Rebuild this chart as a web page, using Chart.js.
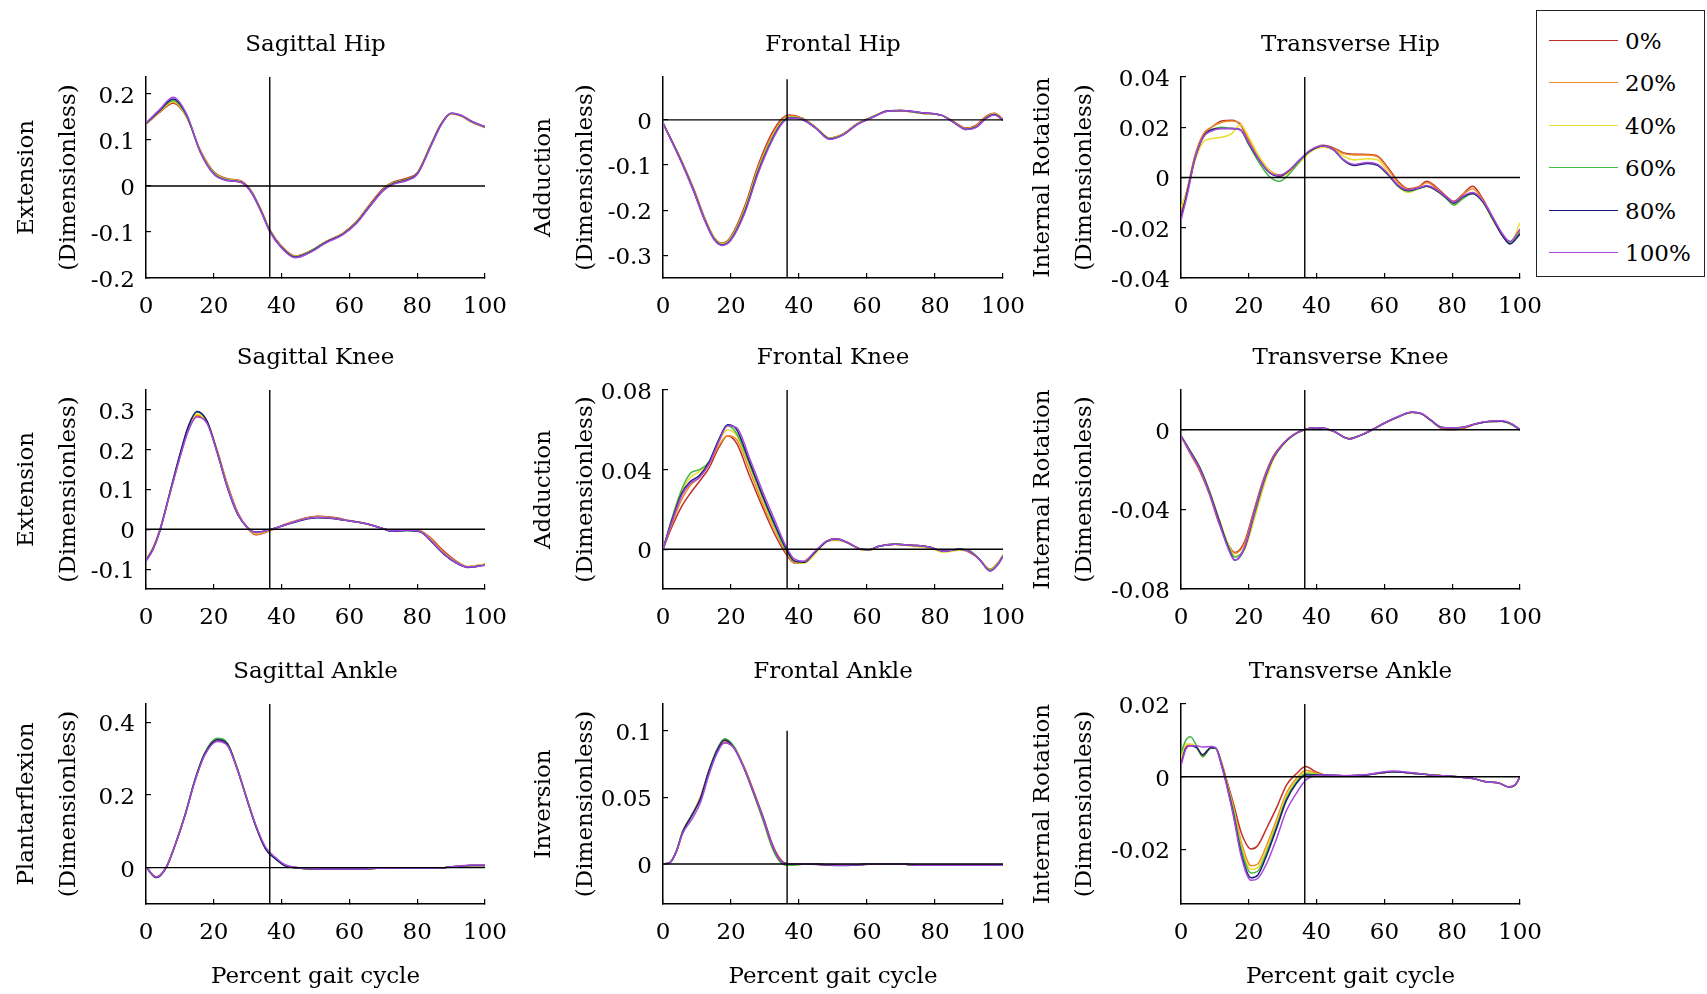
<!DOCTYPE html>
<html>
<head>
<meta charset="utf-8">
<script src="https://cdn.jsdelivr.net/npm/chart.js@4.4.1/dist/chart.umd.min.js"></script>
<style>
  html, body { margin: 0; padding: 0; background: #fff; overflow: hidden; }
  #page { position: relative; width: 1707px; height: 994px; }
  #page canvas { position: absolute; }
  #legend {
    position: absolute; left: 1536px; top: 10px; width: 167px; height: 265px;
    border: 1.5px solid #222; background: #fff;
    font-family: "DejaVu Serif", serif; font-size: 23px; color: #000;
  }
  #legend .item { position: absolute; left: 0; width: 100%; height: 30px; }
  #legend .swatch { position: absolute; left: 12px; top: 14px; width: 69px; height: 0; border-top: 1.5px solid; }
  #legend .text { position: absolute; left: 88px; top: 0; line-height: 30px; }
</style>
</head>
<body>
<div id="page">
  <div id="legend"></div>
</div>
<script>
// series = % of the perturbation
const seriesLabels = ["0%", "20%", "40%", "60%", "80%", "100%"];
const seriesColors = ["#bf2f2a", "#f08a24", "#ecdc2c", "#46b846", "#1c1c78", "#a548dc"];
const xTicks = [0, 20, 40, 60, 80, 100];
const toeOff = 36.5;

// Sagittal Hip
const sagHipX = [0, 4, 8, 12, 16, 20, 24, 28, 31, 34, 36.5, 40, 44, 48, 53, 58, 62, 66, 70, 73, 77, 80, 84, 87, 90, 93, 96, 100];
const sagHipY = [
  [0.134, 0.160, 0.180, 0.150, 0.078, 0.031, 0.016, 0.011, -0.010, -0.053, -0.095, -0.131, -0.152, -0.143, -0.121, -0.103, -0.078, -0.040, -0.005, 0.009, 0.017, 0.029, 0.090, 0.135, 0.157, 0.152, 0.139, 0.127],
  [0.135, 0.161, 0.182, 0.151, 0.077, 0.030, 0.015, 0.010, -0.011, -0.054, -0.096, -0.132, -0.153, -0.143, -0.122, -0.104, -0.079, -0.042, -0.007, 0.007, 0.015, 0.028, 0.089, 0.134, 0.157, 0.152, 0.140, 0.128],
  [0.135, 0.162, 0.184, 0.151, 0.076, 0.029, 0.014, 0.009, -0.012, -0.055, -0.097, -0.133, -0.153, -0.144, -0.122, -0.104, -0.080, -0.043, -0.008, 0.006, 0.014, 0.027, 0.088, 0.134, 0.157, 0.152, 0.140, 0.128],
  [0.136, 0.163, 0.186, 0.152, 0.075, 0.028, 0.013, 0.009, -0.012, -0.055, -0.097, -0.133, -0.154, -0.144, -0.122, -0.105, -0.080, -0.043, -0.008, 0.006, 0.014, 0.027, 0.088, 0.134, 0.158, 0.153, 0.140, 0.128],
  [0.136, 0.164, 0.189, 0.154, 0.074, 0.026, 0.012, 0.008, -0.013, -0.056, -0.098, -0.134, -0.155, -0.145, -0.123, -0.105, -0.081, -0.044, -0.009, 0.005, 0.013, 0.026, 0.087, 0.133, 0.158, 0.153, 0.141, 0.129],
  [0.137, 0.166, 0.193, 0.156, 0.074, 0.026, 0.012, 0.008, -0.013, -0.057, -0.099, -0.135, -0.156, -0.146, -0.124, -0.106, -0.082, -0.045, -0.010, 0.004, 0.012, 0.025, 0.086, 0.132, 0.158, 0.154, 0.141, 0.129]
];
const sagHipTicks = [-0.2, -0.1, 0, 0.1, 0.2];

// Frontal Hip
const froHipX = [0, 5, 9, 12, 15, 17.5, 20, 24, 28, 32, 35, 37, 41, 45, 49, 53, 57, 62, 66, 70, 76, 82, 86, 89, 92, 95, 97.5, 100];
const froHipY = [
  [-0.007, -0.083, -0.152, -0.212, -0.260, -0.273, -0.258, -0.192, -0.100, -0.030, 0.003, 0.011, 0.004, -0.017, -0.040, -0.031, -0.009, 0.008, 0.019, 0.020, 0.015, 0.010, -0.006, -0.018, -0.012, 0.008, 0.015, 0.002],
  [-0.007, -0.084, -0.154, -0.214, -0.261, -0.274, -0.260, -0.196, -0.105, -0.035, 0.000, 0.009, 0.003, -0.017, -0.040, -0.031, -0.010, 0.008, 0.020, 0.021, 0.015, 0.010, -0.007, -0.019, -0.014, 0.006, 0.014, 0.001],
  [-0.007, -0.085, -0.155, -0.215, -0.262, -0.275, -0.262, -0.200, -0.110, -0.040, -0.004, 0.007, 0.002, -0.018, -0.041, -0.032, -0.010, 0.008, 0.020, 0.021, 0.015, 0.010, -0.007, -0.020, -0.015, 0.005, 0.013, 0.000],
  [-0.007, -0.085, -0.156, -0.216, -0.263, -0.276, -0.263, -0.202, -0.112, -0.042, -0.005, 0.006, 0.002, -0.018, -0.041, -0.032, -0.010, 0.008, 0.020, 0.021, 0.015, 0.010, -0.008, -0.020, -0.016, 0.004, 0.012, 0.000],
  [-0.007, -0.086, -0.157, -0.217, -0.264, -0.277, -0.265, -0.205, -0.115, -0.045, -0.007, 0.005, 0.001, -0.019, -0.042, -0.033, -0.011, 0.007, 0.020, 0.021, 0.016, 0.010, -0.008, -0.021, -0.016, 0.004, 0.012, -0.001],
  [-0.007, -0.087, -0.158, -0.218, -0.265, -0.278, -0.266, -0.207, -0.118, -0.047, -0.008, 0.004, 0.001, -0.019, -0.043, -0.033, -0.011, 0.007, 0.019, 0.021, 0.016, 0.010, -0.008, -0.021, -0.017, 0.003, 0.011, -0.001]
];
const froHipTicks = [-0.3, -0.2, -0.1, 0];

// Transverse Hip
const traHipX = [0, 2, 4, 6.5, 9, 12, 15, 17.5, 20, 23, 26, 29, 32, 35, 38, 42, 45, 48, 51, 55, 58, 61, 64, 67, 70, 72.5, 75, 78, 80.5, 83, 86, 89, 92, 95, 97, 100];
const traHipY = [
  [-0.014, -0.004, 0.008, 0.017, 0.020, 0.0225, 0.0228, 0.021, 0.015, 0.008, 0.003, 0.001, 0.0025, 0.0065, 0.0105, 0.0128, 0.0118, 0.0098, 0.0093, 0.0092, 0.0085, 0.004, -0.0015, -0.0045, -0.0038, -0.0015, -0.0035, -0.0072, -0.0095, -0.0068, -0.0035, -0.0085, -0.016, -0.023, -0.0255, -0.021],
  [-0.013, -0.004, 0.008, 0.017, 0.020, 0.022, 0.0225, 0.0215, 0.0155, 0.008, 0.003, 0.0008, 0.0028, 0.0068, 0.0105, 0.0125, 0.0115, 0.0095, 0.009, 0.009, 0.0082, 0.0035, -0.002, -0.0048, -0.004, -0.002, -0.004, -0.0075, -0.0098, -0.007, -0.0045, -0.009, -0.0165, -0.0235, -0.026, -0.0215],
  [-0.012, -0.005, 0.006, 0.014, 0.0155, 0.016, 0.0175, 0.021, 0.016, 0.0085, 0.003, 0.0005, 0.002, 0.006, 0.010, 0.012, 0.011, 0.0085, 0.007, 0.0075, 0.007, 0.002, -0.0035, -0.006, -0.0045, -0.0035, -0.005, -0.008, -0.0105, -0.0085, -0.006, -0.0095, -0.017, -0.0235, -0.026, -0.018],
  [-0.016, -0.005, 0.007, 0.016, 0.019, 0.020, 0.0195, 0.019, 0.013, 0.006, 0.0005, -0.0015, 0.0015, 0.0065, 0.0105, 0.0125, 0.011, 0.007, 0.005, 0.0058, 0.005, 0.0012, -0.0035, -0.0055, -0.0045, -0.0035, -0.005, -0.008, -0.011, -0.0085, -0.0065, -0.0098, -0.0168, -0.0235, -0.026, -0.022],
  [-0.016, -0.005, 0.007, 0.016, 0.019, 0.0195, 0.0195, 0.019, 0.0135, 0.007, 0.002, 0.0005, 0.003, 0.007, 0.0105, 0.0125, 0.011, 0.0068, 0.0048, 0.0056, 0.0048, 0.0012, -0.0032, -0.0052, -0.0043, -0.0035, -0.0048, -0.0078, -0.0102, -0.0078, -0.0064, -0.0096, -0.0165, -0.0235, -0.0265, -0.0225],
  [-0.017, -0.006, 0.007, 0.016, 0.0185, 0.0195, 0.0195, 0.019, 0.0138, 0.0072, 0.0022, 0.0008, 0.003, 0.007, 0.0108, 0.0125, 0.011, 0.007, 0.0052, 0.006, 0.0052, 0.0015, -0.003, -0.005, -0.0042, -0.0032, -0.0045, -0.0075, -0.0098, -0.0075, -0.006, -0.0092, -0.016, -0.0228, -0.0255, -0.0205]
];
const traHipTicks = [-0.04, -0.02, 0, 0.02, 0.04];

// Sagittal Knee
const sagKneeX = [0, 2, 4, 7, 10, 12.5, 15, 18, 21, 24, 27, 30, 32.5, 36.5, 41, 46, 50.5, 55, 60, 65, 69.5, 72.5, 77, 81, 84, 87.5, 91.5, 95, 100];
const sagKneeY = [
  [-0.076, -0.048, -0.003, 0.088, 0.182, 0.250, 0.285, 0.268, 0.198, 0.113, 0.043, 0.002, -0.014, -0.004, 0.012, 0.026, 0.033, 0.030, 0.022, 0.014, 0.003, -0.003, -0.001, -0.004, -0.022, -0.052, -0.080, -0.094, -0.088],
  [-0.077, -0.049, -0.004, 0.089, 0.183, 0.252, 0.287, 0.269, 0.197, 0.111, 0.042, 0.003, -0.013, -0.003, 0.012, 0.025, 0.032, 0.029, 0.021, 0.014, 0.003, -0.004, -0.001, -0.005, -0.024, -0.055, -0.082, -0.094, -0.088],
  [-0.078, -0.050, -0.005, 0.090, 0.185, 0.255, 0.290, 0.270, 0.195, 0.108, 0.040, 0.004, -0.010, -0.002, 0.011, 0.024, 0.030, 0.028, 0.021, 0.014, 0.003, -0.004, -0.002, -0.006, -0.027, -0.058, -0.083, -0.094, -0.088],
  [-0.079, -0.051, -0.006, 0.091, 0.187, 0.258, 0.295, 0.272, 0.194, 0.106, 0.039, 0.004, -0.008, -0.001, 0.011, 0.024, 0.030, 0.028, 0.021, 0.014, 0.003, -0.004, -0.003, -0.006, -0.028, -0.059, -0.084, -0.095, -0.089],
  [-0.079, -0.051, -0.006, 0.091, 0.188, 0.259, 0.296, 0.272, 0.193, 0.105, 0.038, 0.004, -0.007, -0.001, 0.011, 0.023, 0.029, 0.027, 0.021, 0.014, 0.003, -0.005, -0.003, -0.007, -0.029, -0.060, -0.085, -0.096, -0.090],
  [-0.080, -0.052, -0.007, 0.088, 0.180, 0.248, 0.282, 0.266, 0.192, 0.106, 0.040, 0.004, -0.008, -0.001, 0.011, 0.024, 0.030, 0.028, 0.021, 0.014, 0.003, -0.004, -0.002, -0.006, -0.028, -0.059, -0.084, -0.095, -0.090]
];
const sagKneeTicks = [-0.1, 0, 0.1, 0.2, 0.3];

// Frontal Knee
const froKneeX = [0, 2.7, 5.5, 8, 10.7, 13.6, 16.4, 19, 21.7, 25.4, 29.3, 33, 36, 38.7, 41.6, 44.4, 48.2, 51, 54, 57.8, 60.6, 63.5, 68.2, 73, 78.6, 82.4, 87.2, 90, 93, 96.2, 98.6, 100];
const froKneeY = [
  [0, 0.0115, 0.0215, 0.028, 0.034, 0.041, 0.051, 0.057, 0.053, 0.037, 0.021, 0.007, -0.002, -0.007, -0.0065, -0.002, 0.004, 0.005, 0.0035, 0, -0.0005, 0.0015, 0.0025, 0.002, 0.001, -0.001, 0, -0.0015, -0.005, -0.0105, -0.007, -0.003],
  [0, 0.013, 0.025, 0.032, 0.036, 0.043, 0.052, 0.057, 0.055, 0.040, 0.023, 0.009, -0.001, -0.007, -0.006, -0.002, 0.004, 0.0045, 0.0035, 0, -0.0005, 0.0015, 0.0025, 0.002, 0.001, -0.001, 0, -0.001, -0.005, -0.010, -0.0065, -0.003],
  [0, 0.015, 0.029, 0.036, 0.039, 0.044, 0.054, 0.060, 0.057, 0.042, 0.025, 0.010, 0, -0.006, -0.007, -0.003, 0.004, 0.005, 0.0035, 0, -0.0005, 0.0015, 0.0025, 0.0015, 0.0005, -0.0015, -0.0005, -0.001, -0.005, -0.0105, -0.007, -0.003],
  [0, 0.016, 0.030, 0.038, 0.040, 0.044, 0.055, 0.062, 0.058, 0.043, 0.026, 0.011, 0, -0.006, -0.0065, -0.002, 0.004, 0.005, 0.0035, 0.0003, -0.0003, 0.0015, 0.0025, 0.002, 0.001, -0.001, 0, -0.0005, -0.005, -0.0105, -0.007, -0.003],
  [0, 0.015, 0.028, 0.034, 0.037, 0.044, 0.055, 0.0625, 0.060, 0.044, 0.027, 0.012, 0.001, -0.006, -0.0065, -0.002, 0.004, 0.0052, 0.0035, 0.0003, -0.0003, 0.0015, 0.0025, 0.002, 0.001, -0.001, 0, -0.001, -0.005, -0.011, -0.0075, -0.0035],
  [0, 0.014, 0.027, 0.033, 0.036, 0.043, 0.054, 0.062, 0.061, 0.046, 0.029, 0.014, 0.002, -0.005, -0.006, -0.0015, 0.0042, 0.0052, 0.0035, 0.0003, -0.0003, 0.0015, 0.0025, 0.002, 0.001, -0.001, 0, -0.001, -0.005, -0.011, -0.0075, -0.0035]
];
const froKneeTicks = [0, 0.04, 0.08];

// Transverse Knee
const traKneeX = [0, 2.6, 5.5, 8.3, 11.2, 14, 15.9, 18.8, 21.6, 24.5, 27.3, 30.2, 33, 36.3, 39.6, 42.5, 45.3, 49.6, 52.9, 56.7, 60.5, 64.3, 68.1, 71, 73.8, 76.7, 79.5, 83.3, 87.1, 90.9, 94.7, 97.5, 100];
const traKneeY = [
  [-0.003, -0.0115, -0.0205, -0.032, -0.047, -0.058, -0.0617, -0.056, -0.040, -0.024, -0.013, -0.0068, -0.0027, 0, 0.001, 0.0007, -0.001, -0.0045, -0.0028, 0.0003, 0.0038, 0.0067, 0.0088, 0.008, 0.0045, 0.0008, 0, 0.0008, 0.003, 0.0042, 0.0043, 0.003, 0],
  [-0.003, -0.011, -0.020, -0.0315, -0.046, -0.058, -0.062, -0.057, -0.041, -0.0245, -0.0132, -0.0068, -0.0027, 0, 0.001, 0.0008, -0.001, -0.0045, -0.0028, 0.0003, 0.0038, 0.0067, 0.0088, 0.008, 0.0046, 0.001, 0.0005, 0.001, 0.003, 0.0042, 0.0043, 0.003, 0],
  [-0.003, -0.0103, -0.0187, -0.0303, -0.0445, -0.058, -0.0635, -0.060, -0.045, -0.028, -0.0148, -0.0075, -0.003, -0.0002, 0.001, 0.0007, -0.001, -0.0045, -0.0028, 0.0003, 0.0038, 0.0067, 0.0088, 0.008, 0.0047, 0.0013, 0.001, 0.0013, 0.003, 0.0042, 0.0043, 0.003, 0],
  [-0.003, -0.0103, -0.0187, -0.0303, -0.045, -0.0585, -0.064, -0.059, -0.043, -0.026, -0.014, -0.0072, -0.0028, 0, 0.001, 0.0007, -0.001, -0.0045, -0.0028, 0.0003, 0.0038, 0.0067, 0.0088, 0.008, 0.0047, 0.0013, 0.001, 0.0013, 0.003, 0.0042, 0.0043, 0.0025, 0],
  [-0.003, -0.0105, -0.019, -0.031, -0.0455, -0.0595, -0.0655, -0.0592, -0.042, -0.0253, -0.0137, -0.007, -0.0028, 0, 0.001, 0.0007, -0.001, -0.0045, -0.0028, 0.0003, 0.0038, 0.0067, 0.0088, 0.008, 0.0047, 0.0013, 0.001, 0.0013, 0.003, 0.0042, 0.0043, 0.003, 0],
  [-0.003, -0.011, -0.0195, -0.0315, -0.0465, -0.060, -0.0655, -0.059, -0.0418, -0.025, -0.0135, -0.0068, -0.0027, 0, 0.001, 0.0007, -0.001, -0.0046, -0.0028, 0.0003, 0.0038, 0.0068, 0.009, 0.0082, 0.0048, 0.0013, 0.001, 0.0013, 0.0032, 0.0043, 0.0045, 0.003, 0]
];
const traKneeTicks = [-0.08, -0.04, 0];

// Sagittal Ankle
const sagAnkX = [0, 3, 6, 8.7, 11.6, 14.4, 17.3, 21, 24, 26.8, 29.6, 32.5, 35.3, 38.2, 41, 44, 50, 56, 62, 68, 75, 82, 88, 92, 96, 100];
const sagAnkY = [
  [0.002, -0.025, 0.003, 0.066, 0.147, 0.238, 0.310, 0.348, 0.337, 0.274, 0.193, 0.112, 0.053, 0.026, 0.007, 0.001, -0.003, -0.004, -0.004, -0.002, -0.001, -0.001, 0, 0.004, 0.006, 0.006],
  [0.002, -0.026, 0.002, 0.066, 0.148, 0.240, 0.313, 0.354, 0.341, 0.277, 0.195, 0.113, 0.053, 0.025, 0.006, 0, -0.004, -0.004, -0.004, -0.002, -0.001, -0.001, 0, 0.004, 0.006, 0.006],
  [0.002, -0.026, 0.002, 0.066, 0.148, 0.240, 0.314, 0.355, 0.342, 0.277, 0.194, 0.112, 0.052, 0.025, 0.006, 0, -0.004, -0.004, -0.004, -0.002, -0.001, -0.001, 0, 0.004, 0.006, 0.006],
  [0.002, -0.027, 0.001, 0.065, 0.148, 0.241, 0.315, 0.356, 0.342, 0.276, 0.193, 0.111, 0.051, 0.024, 0.005, 0, -0.004, -0.004, -0.004, -0.002, -0.001, -0.001, 0, 0.004, 0.006, 0.006],
  [0.002, -0.027, 0.001, 0.065, 0.147, 0.240, 0.313, 0.352, 0.340, 0.275, 0.193, 0.111, 0.051, 0.024, 0.005, 0, -0.004, -0.004, -0.004, -0.002, -0.001, -0.001, 0, 0.004, 0.006, 0.006],
  [0.002, -0.026, 0.002, 0.065, 0.146, 0.237, 0.309, 0.347, 0.336, 0.274, 0.194, 0.114, 0.056, 0.028, 0.008, 0.001, -0.003, -0.004, -0.004, -0.002, -0.001, -0.001, 0, 0.004, 0.007, 0.007]
];
const sagAnkTicks = [0, 0.2, 0.4];

// Frontal Ankle
const froAnkX = [0, 2, 3.9, 5.8, 8.6, 11, 13.4, 15.7, 18.1, 20.9, 23.8, 26.6, 29.5, 32.3, 34.7, 37, 42, 48, 52, 57, 62, 70, 76, 85, 92, 100];
const froAnkY = [
  [0, 0.001, 0.009, 0.024, 0.037, 0.050, 0.069, 0.084, 0.091, 0.087, 0.073, 0.055, 0.035, 0.014, 0.003, 0, 0, -0.0005, -0.001, -0.0005, 0, 0, -0.001, -0.001, -0.001, -0.001],
  [0, 0.001, 0.0095, 0.0245, 0.0375, 0.050, 0.069, 0.084, 0.092, 0.088, 0.073, 0.055, 0.034, 0.013, 0.002, 0, 0, -0.0005, -0.001, -0.0005, 0, 0, -0.001, -0.001, -0.001, -0.001],
  [0, 0.001, 0.0095, 0.0245, 0.0372, 0.049, 0.069, 0.085, 0.093, 0.088, 0.072, 0.053, 0.032, 0.011, 0.001, -0.001, 0, -0.0005, -0.001, -0.0005, 0, 0, -0.001, -0.001, -0.001, -0.001],
  [0, 0.001, 0.0095, 0.0245, 0.0372, 0.049, 0.069, 0.085, 0.094, 0.088, 0.072, 0.053, 0.032, 0.011, 0.001, -0.001, 0, -0.0005, -0.001, -0.0005, 0, 0, -0.001, -0.001, -0.001, -0.001],
  [0, 0.001, 0.0093, 0.024, 0.037, 0.049, 0.069, 0.084, 0.093, 0.087, 0.072, 0.054, 0.034, 0.013, 0.002, 0, 0, -0.0008, -0.0012, -0.0008, 0, 0, -0.001, -0.001, -0.001, -0.001],
  [0, 0.001, 0.009, 0.023, 0.034, 0.046, 0.066, 0.082, 0.091, 0.087, 0.072, 0.054, 0.034, 0.013, 0.002, 0, 0, -0.0005, -0.001, -0.0005, 0, 0, -0.001, -0.001, -0.001, -0.001]
];
const froAnkTicks = [0, 0.05, 0.1];

// Transverse Ankle
const traAnkX = [0, 1.4, 2.8, 4.6, 6.4, 8.8, 10.2, 12.1, 13.5, 15.5, 17.8, 20.7, 22.6, 25.4, 28.3, 31.1, 34, 36.8, 39.7, 42.5, 48, 55, 62.4, 69, 73.8, 81.4, 86.1, 90, 93.7, 96.6, 98.5, 100];
const traAnkY = [
  [0.004, 0.008, 0.0088, 0.008, 0.006, 0.008, 0.0079, 0.0035, -0.001, -0.0075, -0.0155, -0.0199, -0.019, -0.0139, -0.0083, -0.0023, 0.0008, 0.0028, 0.0014, 0.0005, 0.0003, 0.0005, 0.0014, 0.0009, 0.0005, 0, -0.0005, -0.0014, -0.0017, -0.0028, -0.0023, 0],
  [0.004, 0.008, 0.0088, 0.008, 0.006, 0.008, 0.0079, 0.003, -0.0015, -0.0085, -0.018, -0.0245, -0.024, -0.0185, -0.0115, -0.0045, -0.0005, 0.0018, 0.001, 0.0005, 0.0003, 0.0005, 0.0014, 0.0009, 0.0005, 0, -0.0005, -0.0014, -0.0017, -0.0028, -0.0023, 0],
  [0.005, 0.009, 0.009, 0.008, 0.0055, 0.008, 0.0078, 0.003, -0.0017, -0.009, -0.019, -0.0255, -0.025, -0.0195, -0.0125, -0.0052, -0.001, 0.0012, 0.0008, 0.0005, 0.0003, 0.0005, 0.0014, 0.0009, 0.0005, 0, -0.0005, -0.0014, -0.0017, -0.0028, -0.0023, 0],
  [0.0065, 0.010, 0.011, 0.0085, 0.0055, 0.0078, 0.0078, 0.0028, -0.002, -0.0095, -0.020, -0.0265, -0.026, -0.0205, -0.0132, -0.006, -0.0015, 0.0008, 0.0006, 0.0005, 0.0003, 0.0005, 0.0014, 0.0009, 0.0005, 0, -0.0005, -0.0014, -0.0017, -0.0028, -0.0023, 0],
  [0.0035, 0.0078, 0.0085, 0.008, 0.006, 0.008, 0.0079, 0.0028, -0.0022, -0.0105, -0.0213, -0.0278, -0.0271, -0.0213, -0.0139, -0.0065, -0.0019, 0.0005, 0.0005, 0.0005, 0.0003, 0.0005, 0.0014, 0.0009, 0.0005, 0, -0.0005, -0.0014, -0.0017, -0.0028, -0.0023, 0],
  [0.003, 0.0075, 0.0085, 0.0085, 0.0082, 0.0083, 0.008, 0.0025, -0.0025, -0.011, -0.022, -0.0285, -0.028, -0.0236, -0.0167, -0.0093, -0.0046, -0.0009, 0.0003, 0.0005, 0.0003, 0.0006, 0.0016, 0.001, 0.0005, 0, -0.0005, -0.0014, -0.0017, -0.0028, -0.0023, 0]
];
const traAnkTicks = [-0.02, 0, 0.02];

// layout of the 3x3 grid (chart area edges in page pixels)
const colLeft = [146, 663, 1181];
const colRight = [497, 1015, 1532];
const colAxisW = [140, 140, 159];
const rowTop = [77, 390, 704];
const rowBottom = [278, 589, 904];
const titleBlock = 47;

const panels = [
  { title: "Sagittal Hip", yTitle: ["Extension", "(Dimensionless)"], xs: sagHipX, ys: sagHipY, ticks: sagHipTicks, yMin: -0.2, yMax: 0.237, vTop: 0.237, row: 0, col: 0 },
  { title: "Frontal Hip", yTitle: ["Adduction", "(Dimensionless)"], xs: froHipX, ys: froHipY, ticks: froHipTicks, yMin: -0.35, yMax: 0.095, vTop: 0.09, row: 0, col: 1 },
  { title: "Transverse Hip", yTitle: ["Internal Rotation", "(Dimensionless)"], xs: traHipX, ys: traHipY, ticks: traHipTicks, yMin: -0.04, yMax: 0.04, vTop: 0.04, row: 0, col: 2 },
  { title: "Sagittal Knee", yTitle: ["Extension", "(Dimensionless)"], xs: sagKneeX, ys: sagKneeY, ticks: sagKneeTicks, yMin: -0.15, yMax: 0.35, vTop: 0.35, row: 1, col: 0 },
  { title: "Frontal Knee", yTitle: ["Adduction", "(Dimensionless)"], xs: froKneeX, ys: froKneeY, ticks: froKneeTicks, yMin: -0.02, yMax: 0.08, vTop: 0.08, row: 1, col: 1 },
  { title: "Transverse Knee", yTitle: ["Internal Rotation", "(Dimensionless)"], xs: traKneeX, ys: traKneeY, ticks: traKneeTicks, yMin: -0.08, yMax: 0.02, vTop: 0.02, row: 1, col: 2 },
  { title: "Sagittal Ankle", yTitle: ["Plantarflexion", "(Dimensionless)"], xs: sagAnkX, ys: sagAnkY, ticks: sagAnkTicks, yMin: -0.1, yMax: 0.45, vTop: 0.45, row: 2, col: 0 },
  { title: "Frontal Ankle", yTitle: ["Inversion", "(Dimensionless)"], xs: froAnkX, ys: froAnkY, ticks: froAnkTicks, yMin: -0.03, yMax: 0.12, vTop: 0.1, row: 2, col: 1 },
  { title: "Transverse Ankle", yTitle: ["Internal Rotation", "(Dimensionless)"], xs: traAnkX, ys: traAnkY, ticks: traAnkTicks, yMin: -0.035, yMax: 0.02, vTop: 0.02, row: 2, col: 2 }
];

Chart.defaults.font.family = "'DejaVu Serif', serif";
Chart.defaults.font.size = 23;
Chart.defaults.color = "#000";

const page = document.getElementById("page");

function makePanel(p) {
  const L = colLeft[p.col], R = colRight[p.col], W = colAxisW[p.col];
  const T = rowTop[p.row], B = rowBottom[p.row];
  const xH = p.row === 2 ? 88 : 45;
  const canvas = document.createElement("canvas");
  canvas.width = R - L + W + 30;
  canvas.height = titleBlock + (B - T) + xH;
  canvas.style.left = (L - W) + "px";
  canvas.style.top = (T - titleBlock) + "px";
  page.appendChild(canvas);

  const datasets = p.ys.map((ys, i) => ({
    label: seriesLabels[i],
    data: p.xs.map((x, j) => ({ x: x, y: ys[j] })),
    borderColor: seriesColors[i],
    borderWidth: 1.5,
    pointRadius: 0,
    cubicInterpolationMode: "monotone",
    order: seriesLabels.length - i,
  }));
  datasets.push({
    label: "zero",
    data: [{ x: 0, y: 0 }, { x: 100, y: 0 }],
    borderColor: "#000", borderWidth: 1.4, pointRadius: 0, tension: 0, order: 0,
  });
  datasets.push({
    label: "toe-off",
    data: [{ x: toeOff, y: p.yMin }, { x: toeOff, y: p.vTop }],
    borderColor: "#000", borderWidth: 1.4, pointRadius: 0, tension: 0, order: 0,
  });

  const axisGrid = { display: true, drawOnChartArea: false, drawTicks: true, tickLength: -5, color: "#000", lineWidth: 1.2 };
  const axisBorder = { display: true, color: "#000", width: 1.5 };

  return new Chart(canvas.getContext("2d"), {
    type: "line",
    data: { datasets: datasets },
    options: {
      responsive: false,
      animation: false,
      events: [],
      layout: { padding: { left: 0, top: 0, right: 30, bottom: 0 } },
      plugins: {
        legend: { display: false },
        tooltip: { enabled: false },
        title: {
          display: true, text: p.title, fullSize: false, color: "#000",
          font: { size: 23, weight: "normal", lineHeight: 1.2 },
          padding: { top: 1, bottom: titleBlock - 27.6 - 1 },
        },
      },
      scales: {
        x: {
          type: "linear", min: 0, max: 100,
          afterBuildTicks: (s) => { s.ticks = xTicks.map((v) => ({ value: v })); },
          afterFit: (s) => { s.height = xH; },
          border: axisBorder, grid: axisGrid,
          ticks: { color: "#000", padding: 20, maxRotation: 0 },
          title: {
            display: p.row === 2, text: "Percent gait cycle", color: "#000",
            font: { size: 23, lineHeight: 1.2 }, padding: { top: 0, bottom: 1 },
          },
        },
        y: {
          type: "linear", min: p.yMin, max: p.yMax,
          afterBuildTicks: (s) => { s.ticks = p.ticks.map((v) => ({ value: v })); },
          afterFit: (s) => { s.width = W; },
          border: axisBorder, grid: axisGrid,
          ticks: { color: "#000", padding: 16, labelOffset: 3, callback: (v) => String(+v.toFixed(3)) },
          title: {
            display: true, text: p.yTitle, color: "#000",
            font: { size: 23, lineHeight: 42 / 23 }, padding: { top: 0, bottom: 0 },
          },
        },
      },
    },
  });
}

panels.forEach(makePanel);

// legend box (top right)
const legend = document.getElementById("legend");
seriesLabels.forEach((label, i) => {
  const item = document.createElement("div");
  item.className = "item";
  item.style.top = (15 + 42.4 * i) + "px";
  const sw = document.createElement("span");
  sw.className = "swatch";
  sw.style.borderTopColor = seriesColors[i];
  const tx = document.createElement("span");
  tx.className = "text";
  tx.textContent = label;
  item.appendChild(sw);
  item.appendChild(tx);
  legend.appendChild(item);
});
</script>
</body>
</html>
